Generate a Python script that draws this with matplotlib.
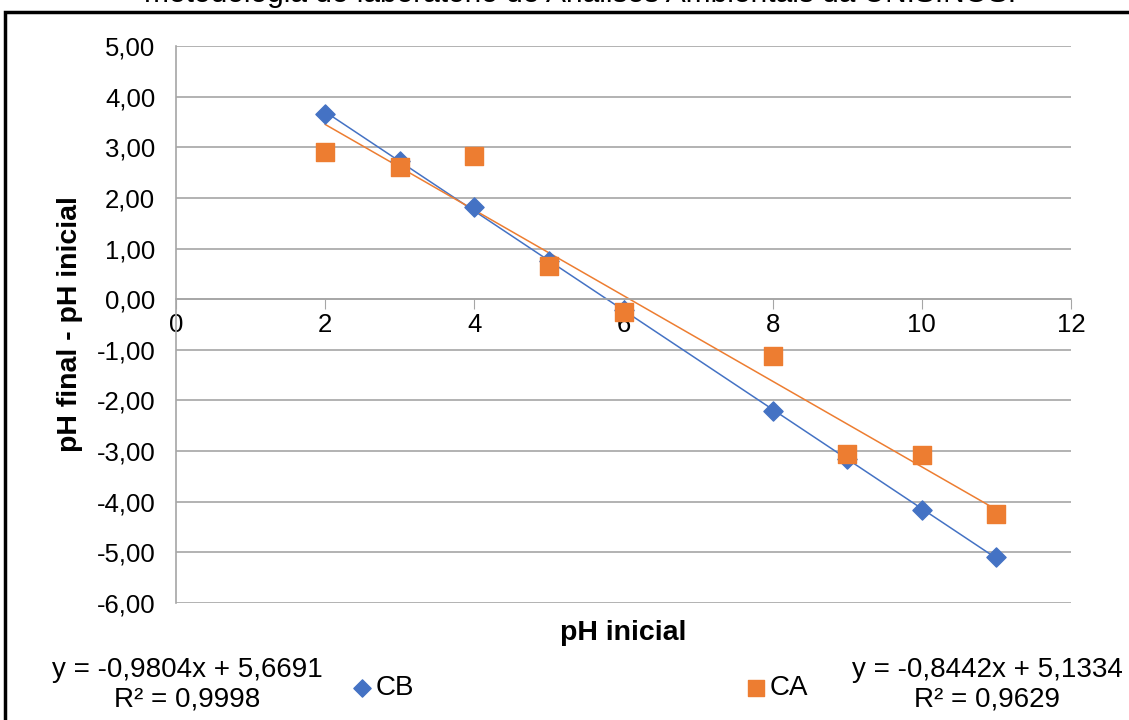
import matplotlib
matplotlib.use("Agg")
import matplotlib.pyplot as plt
from matplotlib.patches import Rectangle
from matplotlib.ticker import FuncFormatter
import numpy as np

plt.rcParams["font.family"] = ["Liberation Sans", "DejaVu Sans"]

# dados
ph_inicial = [2, 3, 4, 5, 6, 8, 9, 10, 11]
cb = [3.65, 2.73, 1.82, 0.75, -0.22, -2.20, -3.15, -4.16, -5.10]
ca = [2.90, 2.62, 2.83, 0.65, -0.25, -1.12, -3.05, -3.08, -4.25]

eq_cb = "y = -0,9804x + 5,6691\nR² = 0,9998"
eq_ca = "y = -0,8442x + 5,1334\nR² = 0,9629"

BLUE = "#4472C4"
ORANGE = "#ED7D31"
GRID = "#A6A6A6"

fig = plt.figure(figsize=(11.29, 7.2), dpi=100)
ax = fig.add_axes([0.156, 0.1625, 0.7926, 0.7735])

# linhas de tendência
xs = np.array([min(ph_inicial), max(ph_inicial)])
for serie, cor in [(cb, BLUE), (ca, ORANGE)]:
    a, b = np.polyfit(ph_inicial, serie, 1)
    ax.plot(xs, a * xs + b, color=cor, lw=1.1, zorder=2)

ax.scatter(ph_inicial, cb, marker="D", s=95, color=BLUE, zorder=3, label="CB")
ax.scatter(ph_inicial, ca, marker="s", s=160, color=ORANGE, zorder=4, label="CA")

ax.set_xlim(0, 12)
ax.set_ylim(-6, 5)
ax.set_yticks(np.arange(-6, 6, 1))
ax.set_xticks(np.arange(0, 13, 2))
ax.yaxis.set_major_formatter(FuncFormatter(lambda v, _: f"{v:.2f}".replace(".", ",")))
ax.grid(axis="y", color=GRID, lw=1.2)
ax.set_axisbelow(True)

for s in ["top", "right"]:
    ax.spines[s].set_visible(False)
ax.spines["left"].set_color(GRID)
ax.spines["left"].set_linewidth(1.2)
ax.spines["bottom"].set_position(("data", 0))
ax.spines["bottom"].set_color(GRID)
ax.spines["bottom"].set_linewidth(1.2)

ax.tick_params(axis="y", length=0, labelsize=18.5, pad=15, colors="black")
ax.tick_params(axis="x", direction="out", length=7, color=GRID, labelsize=18.5, pad=3)

ax.set_xlabel("pH inicial", fontsize=20.5, fontweight="bold", labelpad=0)
ax.xaxis.set_label_coords(0.5, -0.03)
ax.set_ylabel("pH final - pH inicial", fontsize=20.5, fontweight="bold")
ax.yaxis.set_label_coords(-0.104, 0.5)

# legenda e equações
fig.text(187 / 1129, 1 - 685 / 720, eq_cb, ha="center", va="center", fontsize=20, linespacing=1.2)
fig.text(987 / 1129, 1 - 685 / 720, eq_ca, ha="center", va="center", fontsize=20, linespacing=1.2)
kw = dict(loc="center left", frameon=False, fontsize=20, handlelength=0.7,
          handletextpad=0.15, borderpad=0, borderaxespad=0, markerscale=0.9)
fig.legend(handles=[ax.collections[0]], bbox_to_anchor=(352 / 1129, 1 - 688 / 720), **kw)
fig.legend(handles=[ax.collections[1]], bbox_to_anchor=(746 / 1129, 1 - 688 / 720), **kw)

# moldura e legenda cortada no topo
fig.patches.append(Rectangle((5 / 1129, -0.05), 1.2, 1 - 12 / 720 + 0.05, transform=fig.transFigure,
                             fill=False, edgecolor="black", lw=2.5))
fig.text(580 / 1129, 1 - 8 / 720, "metodologia do laboratório de Análises Ambientais da UNISINOS.",
         ha="center", va="bottom", fontsize=21.5)

fig.savefig("out.png", dpi=100)
